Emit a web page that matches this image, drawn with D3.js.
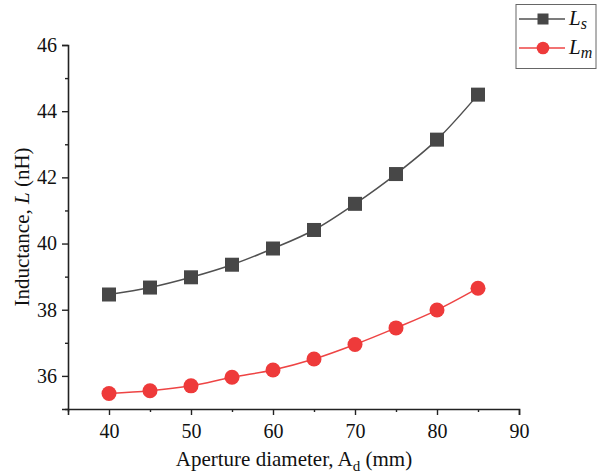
<!DOCTYPE html>
<html>
<head>
<meta charset="utf-8">
<script src="https://cdn.jsdelivr.net/npm/d3@7"></script>
<style>
  html, body { margin: 0; padding: 0; background: #fff; }
  svg { display: block; }
  svg text { font-family: "Liberation Serif", "Times New Roman", Times, serif !important; }
</style>
</head>
<body>
<svg id="chart" width="602" height="474"></svg>
<script>
// Aperture diameter (mm)
const apertures = [40, 45, 50, 55, 60, 65, 70, 75, 80, 85];
// Self inductance L_s (nH)
const seriesLs = [38.46, 38.67, 38.98, 39.36, 39.85, 40.41, 41.2, 42.1, 43.14, 44.5];
// Mutual inductance L_m (nH)
const seriesLm = [35.47, 35.55, 35.7, 35.96, 36.18, 36.51, 36.95, 37.45, 37.99, 38.65];

const xMajorTicks = [40, 50, 60, 70, 80, 90];
const xMinorTicks = [35, 45, 55, 65, 75, 85];
const yMajorTicks = [36, 38, 40, 42, 44, 46];
const yMinorTicks = [35, 37, 39, 41, 43, 45];

const svg = d3.select("#chart");
const x = d3.scaleLinear().domain([35, 90]).range([68, 519]);
const y = d3.scaleLinear().domain([35, 46]).range([409, 45]);

const axisColor = "#222";
const colLs = "#474747";
const colLsLine = "#505050";
const colLm = "#ee3a3a";
const colLmLine = "#ee4444";

// Axes: major ticks with labels, minor ticks without
const gx = svg.append("g").attr("transform", `translate(0,${y(35)})`)
  .call(d3.axisBottom(x).tickValues(xMajorTicks).tickSize(6).tickPadding(9).tickFormat(d3.format("d")));
svg.append("g").attr("transform", `translate(0,${y(35)})`)
  .call(d3.axisBottom(x).tickValues(xMinorTicks).tickSize(3).tickFormat(""))
  .select(".domain").remove();

const gy = svg.append("g").attr("transform", `translate(${x(35)},0)`)
  .call(d3.axisLeft(y).tickValues(yMajorTicks).tickSize(6).tickPadding(5).tickFormat(d3.format("d")));
svg.append("g").attr("transform", `translate(${x(35)},0)`)
  .call(d3.axisLeft(y).tickValues(yMinorTicks).tickSize(3).tickFormat(""))
  .select(".domain").remove();

svg.selectAll(".domain").attr("stroke", axisColor).attr("stroke-width", 1.6);
svg.selectAll(".tick line").attr("stroke", axisColor).attr("stroke-width", 1.4);
svg.selectAll(".tick text").attr("font-size", 20).attr("fill", "#111");

// Axis titles
const xTitle = svg.append("text")
  .attr("x", 294).attr("y", 466)
  .attr("text-anchor", "middle")
  .attr("font-size", 21).attr("fill", "#111");
xTitle.append("tspan").text("Aperture diameter, A");
xTitle.append("tspan").attr("font-size", 15).attr("dy", 5).text("d");
xTitle.append("tspan").attr("dy", -5).text(" (mm)");

const yTitle = svg.append("text")
  .attr("transform", `translate(29,${227}) rotate(-90)`)
  .attr("text-anchor", "middle")
  .attr("font-size", 21).attr("fill", "#111");
yTitle.append("tspan").text("Inductance, ");
yTitle.append("tspan").attr("font-style", "italic").text("L");
yTitle.append("tspan").text(" (nH)");

// Smooth connecting lines
const line = d3.line().x((d, i) => x(apertures[i])).y(d => y(d)).curve(d3.curveCatmullRom.alpha(0.5));

svg.append("path").datum(seriesLs).attr("d", line)
  .attr("fill", "none").attr("stroke", colLsLine).attr("stroke-width", 1.5);
svg.append("path").datum(seriesLm).attr("d", line)
  .attr("fill", "none").attr("stroke", colLmLine).attr("stroke-width", 1.5);

// Markers
const sq = 14;
svg.append("g").selectAll("rect").data(seriesLs).join("rect")
  .attr("x", (d, i) => x(apertures[i]) - sq / 2)
  .attr("y", d => y(d) - sq / 2)
  .attr("width", sq).attr("height", sq)
  .attr("fill", colLs);

svg.append("g").selectAll("circle").data(seriesLm).join("circle")
  .attr("cx", (d, i) => x(apertures[i]))
  .attr("cy", d => y(d))
  .attr("r", 7.5)
  .attr("fill", colLm);

// Legend
const legend = svg.append("g");
legend.append("rect").attr("x", 516).attr("y", 4.5).attr("width", 80).attr("height", 64)
  .attr("fill", "#fff").attr("stroke", "#666").attr("stroke-width", 1);

const legendItems = [
  { sub: "s", color: colLs, lineColor: colLsLine, shape: "square", yPos: 19 },
  { sub: "m", color: colLm, lineColor: colLmLine, shape: "circle", yPos: 48 }
];
legendItems.forEach(it => {
  legend.append("line").attr("x1", 519).attr("x2", 565).attr("y1", it.yPos).attr("y2", it.yPos)
    .attr("stroke", it.lineColor).attr("stroke-width", 1.5);
  if (it.shape === "square") {
    legend.append("rect").attr("x", 543 - 5.5).attr("y", it.yPos - 5.5).attr("width", 11).attr("height", 11)
      .attr("fill", it.color);
  } else {
    legend.append("circle").attr("cx", 543).attr("cy", it.yPos).attr("r", 6.3).attr("fill", it.color);
  }
  const t = legend.append("text").attr("x", 569).attr("y", it.yPos + 6)
    .attr("font-size", 21).attr("font-style", "italic").attr("fill", "#111");
  t.append("tspan").text("L");
  t.append("tspan").attr("font-size", 16).attr("dy", 4).text(it.sub);
});
</script>
</body>
</html>
